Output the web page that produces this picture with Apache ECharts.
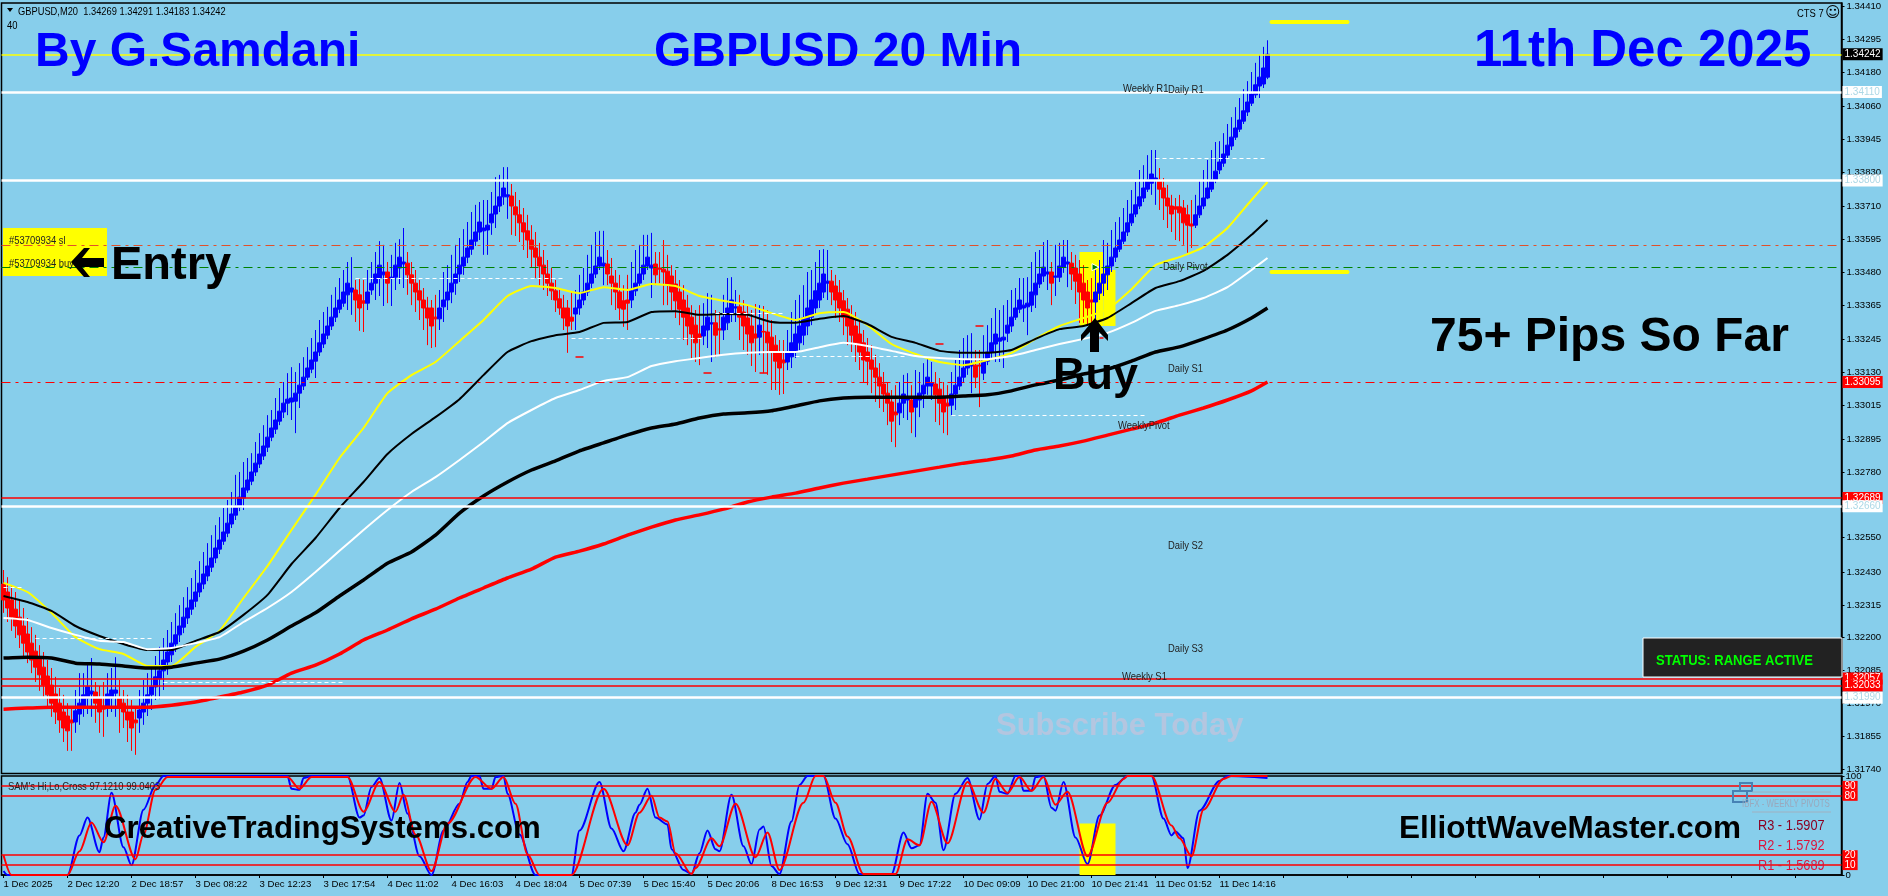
<!DOCTYPE html>
<html><head><meta charset="utf-8"><style>html,body{margin:0;padding:0;background:#87CEEB}#c{width:1888px;height:896px}</style>
<script src="https://cdn.jsdelivr.net/npm/echarts@6/dist/echarts.min.js"></script></head>
<body><div id="c"></div><script>
const xLabels=['1 Dec 2025','2 Dec 12:20','2 Dec 18:57','3 Dec 08:22','3 Dec 12:23','3 Dec 17:54','4 Dec 11:02','4 Dec 16:03','4 Dec 18:04','5 Dec 07:39','5 Dec 15:40','5 Dec 20:06','8 Dec 16:53','9 Dec 12:31','9 Dec 17:22','10 Dec 09:09','10 Dec 21:00','10 Dec 21:41','11 Dec 01:52','11 Dec 14:16'];
const yTicks=[1.34410,1.34295,1.34180,1.34060,1.33945,1.33830,1.33710,1.33595,1.33480,1.33365,1.33245,1.33130,1.33015,1.32895,1.32780,1.32660,1.32550,1.32430,1.32315,1.32200,1.32085,1.31970,1.31855,1.31740];
const opens=[1.32388,1.32360,1.32332,1.32300,1.32272,1.32241,1.32213,1.32181,1.32153,1.32125,1.32097,1.32066,1.32034,1.32003,1.31971,1.31940,1.31926,1.31912,1.31905,1.31933,
1.31961,1.31989,1.32003,1.32010,1.31989,1.31961,1.31961,1.31989,1.32006,1.31989,1.31971,1.31940,1.31940,1.31912,1.31919,1.31940,1.31971,1.32000,1.32028,1.32056,
1.32084,1.32115,1.32140,1.32178,1.32210,1.32237,1.32269,1.32300,1.32328,1.32360,1.32388,1.32416,1.32447,1.32479,1.32510,1.32538,1.32566,1.32598,1.32629,1.32657,
1.32689,1.32717,1.32748,1.32780,1.32808,1.32836,1.32867,1.32902,1.32930,1.32958,1.32990,1.33021,1.33025,1.33028,1.33056,1.33081,1.33112,1.33140,1.33168,1.33200,
1.33228,1.33259,1.33291,1.33322,1.33350,1.33371,1.33400,1.33410,1.33417,1.33400,1.33379,1.33371,1.33417,1.33441,1.33459,1.33470,1.33480,1.33459,1.33462,1.33494,
1.33508,1.33511,1.33470,1.33441,1.33414,1.33382,1.33354,1.33354,1.33322,1.33316,1.33358,1.33382,1.33410,1.33441,1.33473,1.33501,1.33532,1.33560,1.33588,1.33620,
1.33624,1.33627,1.33652,1.33683,1.33711,1.33743,1.33743,1.33746,1.33708,1.33680,1.33652,1.33624,1.33592,1.33564,1.33532,1.33504,1.33473,1.33441,1.33414,1.33386,
1.33354,1.33354,1.33322,1.33333,1.33354,1.33382,1.33410,1.33441,1.33473,1.33501,1.33501,1.33508,1.33466,1.33441,1.33410,1.33379,1.33382,1.33382,1.33414,1.33441,
1.33473,1.33501,1.33494,1.33508,1.33494,1.33490,1.33483,1.33466,1.33438,1.33410,1.33382,1.33354,1.33322,1.33294,1.33263,1.33256,1.33277,1.33298,1.33302,1.33281,
1.33277,1.33302,1.33337,1.33354,1.33358,1.33340,1.33319,1.33291,1.33263,1.33252,1.33272,1.33270,1.33252,1.33224,1.33197,1.33172,1.33165,1.33183,1.33200,1.33232,
1.33259,1.33291,1.33322,1.33354,1.33382,1.33410,1.33441,1.33448,1.33431,1.33407,1.33379,1.33350,1.33322,1.33291,1.33263,1.33232,1.33200,1.33172,1.33144,1.33112,
1.33088,1.33056,1.33025,1.32990,1.32987,1.33021,1.33032,1.33032,1.33007,1.33032,1.33053,1.33081,1.33081,1.33088,1.33070,1.33039,1.33021,1.33014,1.33053,1.33081,
1.33112,1.33144,1.33151,1.33154,1.33154,1.33126,1.33168,1.33200,1.33228,1.33238,1.33242,1.33266,1.33291,1.33322,1.33350,1.33354,1.33358,1.33364,1.33400,1.33438,
1.33466,1.33473,1.33480,1.33462,1.33462,1.33497,1.33508,1.33511,1.33494,1.33473,1.33441,1.33410,1.33382,1.33375,1.33406,1.33441,1.33470,1.33501,1.33532,1.33560,
1.33588,1.33620,1.33652,1.33683,1.33711,1.33739,1.33770,1.33791,1.33802,1.33802,1.33774,1.33739,1.33711,1.33708,1.33708,1.33704,1.33680,1.33648,1.33644,1.33680,
1.33711,1.33739,1.33770,1.33802,1.33837,1.33861,1.33889,1.33921,1.33952,1.33980,1.34008,1.34040,1.34071,1.34100,1.34131,1.34138,1.34162];
const closes=[1.32332,1.32304,1.32272,1.32241,1.32210,1.32181,1.32150,1.32122,1.32097,1.32070,1.32034,1.32000,1.31971,1.31940,1.31912,1.31884,1.31874,1.31902,1.31944,1.31971,
1.32000,1.32028,1.32013,1.31971,1.31940,1.31950,1.32003,1.32017,1.32017,1.31954,1.31940,1.31912,1.31884,1.31902,1.31947,1.31971,1.32000,1.32028,1.32063,1.32084,
1.32122,1.32150,1.32181,1.32210,1.32241,1.32272,1.32304,1.32332,1.32360,1.32391,1.32423,1.32451,1.32479,1.32514,1.32542,1.32570,1.32601,1.32633,1.32661,1.32692,
1.32724,1.32752,1.32780,1.32811,1.32843,1.32871,1.32902,1.32934,1.32962,1.32993,1.33021,1.33035,1.33039,1.33056,1.33084,1.33112,1.33144,1.33172,1.33200,1.33232,
1.33263,1.33291,1.33322,1.33354,1.33382,1.33410,1.33441,1.33424,1.33382,1.33354,1.33371,1.33410,1.33441,1.33473,1.33504,1.33480,1.33441,1.33462,1.33504,1.33532,
1.33515,1.33470,1.33441,1.33410,1.33382,1.33354,1.33319,1.33291,1.33316,1.33354,1.33382,1.33410,1.33441,1.33473,1.33504,1.33532,1.33564,1.33592,1.33620,1.33655,
1.33634,1.33644,1.33683,1.33711,1.33743,1.33774,1.33750,1.33711,1.33680,1.33652,1.33620,1.33592,1.33560,1.33532,1.33501,1.33473,1.33441,1.33414,1.33382,1.33354,
1.33319,1.33291,1.33308,1.33354,1.33382,1.33410,1.33441,1.33473,1.33501,1.33532,1.33511,1.33473,1.33441,1.33410,1.33354,1.33350,1.33371,1.33414,1.33441,1.33473,
1.33504,1.33532,1.33504,1.33470,1.33490,1.33480,1.33438,1.33410,1.33379,1.33350,1.33322,1.33291,1.33263,1.33232,1.33252,1.33291,1.33322,1.33302,1.33259,1.33277,
1.33322,1.33354,1.33382,1.33358,1.33322,1.33291,1.33263,1.33232,1.33249,1.33294,1.33270,1.33232,1.33200,1.33168,1.33144,1.33162,1.33197,1.33232,1.33263,1.33291,
1.33319,1.33354,1.33382,1.33414,1.33441,1.33473,1.33448,1.33410,1.33382,1.33354,1.33322,1.33291,1.33259,1.33232,1.33200,1.33172,1.33168,1.33140,1.33112,1.33081,
1.33053,1.33021,1.32958,1.32980,1.33021,1.33053,1.33039,1.32990,1.33039,1.33056,1.33084,1.33112,1.33091,1.33050,1.33021,1.32990,1.33011,1.33053,1.33084,1.33112,
1.33144,1.33172,1.33158,1.33112,1.33151,1.33172,1.33200,1.33232,1.33263,1.33249,1.33252,1.33294,1.33322,1.33354,1.33382,1.33364,1.33371,1.33410,1.33441,1.33473,
1.33497,1.33480,1.33441,1.33466,1.33501,1.33532,1.33515,1.33473,1.33448,1.33410,1.33382,1.33354,1.33375,1.33410,1.33441,1.33473,1.33501,1.33532,1.33564,1.33592,
1.33620,1.33652,1.33683,1.33715,1.33743,1.33774,1.33802,1.33823,1.33809,1.33770,1.33739,1.33711,1.33683,1.33700,1.33687,1.33652,1.33644,1.33641,1.33680,1.33711,
1.33739,1.33774,1.33802,1.33833,1.33865,1.33893,1.33924,1.33952,1.33984,1.34012,1.34044,1.34075,1.34103,1.34135,1.34162,1.34194,1.34242];
const highs=[1.32437,1.32412,1.32384,1.32360,1.32332,1.32304,1.32269,1.32237,1.32210,1.32174,1.32150,1.32122,1.32094,1.32063,1.32024,1.32000,1.31971,1.31954,1.32017,1.32076,
1.32076,1.32111,1.32129,1.32045,1.32031,1.32045,1.32076,1.32094,1.32132,1.32052,1.32017,1.32000,1.31982,1.31961,1.32017,1.32052,1.32076,1.32094,1.32136,1.32168,
1.32199,1.32227,1.32255,1.32286,1.32314,1.32342,1.32377,1.32409,1.32437,1.32468,1.32500,1.32531,1.32559,1.32594,1.32622,1.32654,1.32682,1.32710,1.32770,1.32780,
1.32815,1.32829,1.32846,1.32885,1.32916,1.32944,1.32979,1.32997,1.33039,1.33074,1.33095,1.33126,1.33147,1.33130,1.33161,1.33182,1.33217,1.33249,1.33277,1.33312,
1.33340,1.33358,1.33400,1.33427,1.33459,1.33487,1.33515,1.33532,1.33452,1.33455,1.33452,1.33487,1.33515,1.33550,1.33588,1.33575,1.33515,1.33540,1.33582,1.33595,
1.33634,1.33550,1.33515,1.33487,1.33452,1.33424,1.33393,1.33382,1.33400,1.33417,1.33480,1.33504,1.33540,1.33575,1.33599,1.33630,1.33655,1.33690,1.33715,1.33725,
1.33732,1.33732,1.33760,1.33812,1.33820,1.33847,1.33847,1.33788,1.33760,1.33732,1.33704,1.33680,1.33644,1.33620,1.33582,1.33557,1.33522,1.33494,1.33452,1.33424,
1.33400,1.33382,1.33410,1.33417,1.33470,1.33494,1.33540,1.33575,1.33620,1.33624,1.33624,1.33557,1.33529,1.33487,1.33470,1.33434,1.33470,1.33515,1.33557,1.33575,
1.33610,1.33610,1.33617,1.33550,1.33550,1.33592,1.33540,1.33504,1.33487,1.33452,1.33434,1.33400,1.33364,1.33347,1.33364,1.33371,1.33406,1.33400,1.33347,1.33340,
1.33400,1.33459,1.33462,1.33417,1.33400,1.33382,1.33361,1.33347,1.33368,1.33364,1.33361,1.33347,1.33312,1.33259,1.33242,1.33242,1.33277,1.33340,1.33382,1.33400,
1.33434,1.33480,1.33487,1.33515,1.33557,1.33560,1.33557,1.33487,1.33470,1.33452,1.33417,1.33389,1.33364,1.33340,1.33312,1.33277,1.33249,1.33224,1.33190,1.33161,
1.33130,1.33095,1.33067,1.33084,1.33095,1.33120,1.33126,1.33084,1.33137,1.33130,1.33161,1.33182,1.33165,1.33130,1.33109,1.33095,1.33084,1.33130,1.33172,1.33207,
1.33249,1.33259,1.33266,1.33207,1.33207,1.33259,1.33294,1.33319,1.33354,1.33347,1.33364,1.33382,1.33417,1.33424,1.33459,1.33459,1.33462,1.33515,1.33550,1.33557,
1.33585,1.33592,1.33515,1.33575,1.33582,1.33592,1.33592,1.33550,1.33540,1.33522,1.33504,1.33452,1.33459,1.33487,1.33522,1.33592,1.33582,1.33627,1.33655,1.33672,
1.33704,1.33732,1.33767,1.33795,1.33837,1.33854,1.33889,1.33907,1.33907,1.33844,1.33809,1.33785,1.33750,1.33739,1.33750,1.33732,1.33715,1.33732,1.33750,1.33802,
1.33837,1.33872,1.33907,1.33935,1.33938,1.33966,1.33998,1.34022,1.34057,1.34089,1.34120,1.34148,1.34180,1.34212,1.34240,1.34268,1.34291];
const lows=[1.32287,1.32255,1.32224,1.32199,1.32164,1.32136,1.32111,1.32076,1.32045,1.32014,1.31993,1.31961,1.31923,1.31898,1.31867,1.31835,1.31804,1.31804,1.31867,1.31895,
1.31923,1.31933,1.31923,1.31902,1.31867,1.31853,1.31923,1.31940,1.31923,1.31867,1.31884,1.31835,1.31804,1.31790,1.31867,1.31895,1.31926,1.31947,1.31982,1.31985,
1.32017,1.32070,1.32115,1.32150,1.32185,1.32216,1.32248,1.32280,1.32307,1.32342,1.32370,1.32398,1.32430,1.32461,1.32493,1.32525,1.32552,1.32584,1.32612,1.32643,
1.32647,1.32707,1.32734,1.32766,1.32794,1.32822,1.32850,1.32888,1.32913,1.32944,1.32969,1.32979,1.32962,1.32916,1.33004,1.33067,1.33102,1.33126,1.33109,1.33186,
1.33214,1.33245,1.33277,1.33305,1.33336,1.33358,1.33347,1.33330,1.33305,1.33274,1.33270,1.33347,1.33400,1.33382,1.33396,1.33361,1.33371,1.33361,1.33417,1.33438,
1.33424,1.33400,1.33364,1.33340,1.33312,1.33277,1.33224,1.33214,1.33217,1.33277,1.33305,1.33347,1.33371,1.33400,1.33445,1.33470,1.33511,1.33540,1.33571,1.33592,
1.33540,1.33540,1.33610,1.33634,1.33690,1.33715,1.33666,1.33610,1.33606,1.33585,1.33557,1.33529,1.33494,1.33459,1.33434,1.33417,1.33396,1.33382,1.33340,1.33330,
1.33277,1.33197,1.33277,1.33277,1.33330,1.33364,1.33396,1.33424,1.33459,1.33487,1.33434,1.33434,1.33364,1.33347,1.33312,1.33288,1.33277,1.33354,1.33396,1.33424,
1.33452,1.33487,1.33389,1.33434,1.33441,1.33364,1.33364,1.33347,1.33319,1.33294,1.33242,1.33224,1.33179,1.33165,1.33154,1.33224,1.33214,1.33165,1.33182,1.33186,
1.33242,1.33277,1.33305,1.33305,1.33242,1.33207,1.33190,1.33151,1.33130,1.33190,1.33126,1.33120,1.33067,1.33067,1.33050,1.33053,1.33137,1.33144,1.33179,1.33207,
1.33224,1.33259,1.33294,1.33330,1.33354,1.33389,1.33382,1.33364,1.33319,1.33305,1.33259,1.33224,1.33200,1.33165,1.33137,1.33095,1.33084,1.33056,1.33025,1.33004,
1.32990,1.32944,1.32885,1.32867,1.32944,1.32969,1.32962,1.32916,1.32902,1.32972,1.33004,1.33050,1.33032,1.32955,1.32944,1.32916,1.32909,1.32979,1.32997,1.33067,
1.33095,1.33120,1.33056,1.33074,1.33007,1.33102,1.33154,1.33179,1.33165,1.33165,1.33144,1.33235,1.33270,1.33312,1.33336,1.33305,1.33259,1.33340,1.33354,1.33424,
1.33445,1.33417,1.33364,1.33396,1.33445,1.33477,1.33427,1.33417,1.33368,1.33302,1.33302,1.33291,1.33302,1.33294,1.33382,1.33396,1.33417,1.33480,1.33515,1.33550,
1.33578,1.33606,1.33641,1.33672,1.33700,1.33725,1.33760,1.33750,1.33715,1.33697,1.33662,1.33634,1.33620,1.33592,1.33588,1.33575,1.33547,1.33564,1.33634,1.33669,
1.33700,1.33735,1.33760,1.33791,1.33823,1.33848,1.33879,1.33907,1.33942,1.33970,1.33998,1.34026,1.34061,1.34089,1.34089,1.34124,1.34155];
const maBars=[0,6,12,18,24,30,36,42,48,54,60,66,72,78,84,90,96,102,108,114,120,126,132,138,144,150,156,162,168,174,180,186,192,198,204,210,216,222,228,234,240,246,252,258,264,270,276,282,288,294,300,306,312,316];
const maYellow=[1.32392,1.32360,1.32287,1.32202,1.32160,1.32143,1.32101,1.32101,1.32168,1.32224,1.32339,1.32451,1.32577,1.32700,1.32829,1.32934,1.33056,1.33119,1.33165,1.33238,1.33312,1.33396,1.33431,1.33424,1.33406,1.33427,1.33417,1.33438,1.33431,1.33396,1.33379,1.33364,1.33336,1.33312,1.33336,1.33340,1.33294,1.33228,1.33193,1.33165,1.33154,1.33172,1.33197,1.33246,1.33291,1.33319,1.33350,1.33420,1.33504,1.33532,1.33567,1.33634,1.33732,1.33795];
const maBlackThin=[1.32346,1.32325,1.32294,1.32241,1.32206,1.32178,1.32157,1.32157,1.32189,1.32220,1.32280,1.32350,1.32458,1.32549,1.32654,1.32745,1.32843,1.32913,1.32972,1.33035,1.33119,1.33200,1.33238,1.33259,1.33270,1.33302,1.33305,1.33340,1.33343,1.33330,1.33333,1.33330,1.33305,1.33302,1.33316,1.33326,1.33298,1.33253,1.33232,1.33204,1.33197,1.33197,1.33207,1.33246,1.33280,1.33291,1.33319,1.33371,1.33424,1.33448,1.33484,1.33540,1.33610,1.33662];
const maWhite=[1.32269,1.32262,1.32234,1.32210,1.32189,1.32185,1.32160,1.32164,1.32181,1.32202,1.32255,1.32304,1.32360,1.32430,1.32504,1.32577,1.32647,1.32710,1.32762,1.32822,1.32885,1.32951,1.32997,1.33039,1.33067,1.33099,1.33112,1.33151,1.33168,1.33179,1.33190,1.33197,1.33200,1.33200,1.33217,1.33232,1.33221,1.33204,1.33186,1.33179,1.33175,1.33175,1.33186,1.33207,1.33228,1.33246,1.33267,1.33302,1.33344,1.33364,1.33389,1.33427,1.33487,1.33529];
const maBlackThick=[1.32129,1.32132,1.32129,1.32111,1.32108,1.32101,1.32094,1.32097,1.32111,1.32125,1.32153,1.32192,1.32241,1.32287,1.32346,1.32402,1.32461,1.32500,1.32559,1.32636,1.32696,1.32745,1.32787,1.32819,1.32854,1.32882,1.32910,1.32934,1.32948,1.32969,1.32983,1.32987,1.32994,1.33011,1.33029,1.33039,1.33042,1.33042,1.33042,1.33042,1.33046,1.33050,1.33064,1.33085,1.33102,1.33123,1.33140,1.33168,1.33200,1.33218,1.33246,1.33277,1.33319,1.33354];
const maRedThick=[1.31950,1.31954,1.31957,1.31957,1.31957,1.31957,1.31957,1.31964,1.31975,1.31992,1.32010,1.32034,1.32076,1.32104,1.32143,1.32192,1.32227,1.32266,1.32300,1.32339,1.32374,1.32409,1.32440,1.32482,1.32503,1.32528,1.32559,1.32587,1.32612,1.32630,1.32650,1.32675,1.32692,1.32706,1.32724,1.32741,1.32755,1.32769,1.32783,1.32797,1.32811,1.32822,1.32836,1.32857,1.32871,1.32888,1.32909,1.32930,1.32951,1.32979,1.33004,1.33032,1.33064,1.33095];
const stochBlueBars=[0,1,16,19,21,24,25,27,30,32,35,38,40,71,72,74,75,77,86,89,90,92,94,97,99,101,104,107,110,114,116,117,119,120,122,123,125,126,129,133,142,144,149,152,155,158,159,161,163,166,167,170,172,174,176,178,179,182,185,187,189,190,192,194,197,199,201,205,208,211,214,222,225,227,229,231,233,235,238,241,244,246,248,249,251,253,254,255,257,258,260,262,263,265,268,271,274,278,281,287,290,292,293,295,296,299,304,306,316];
const stochBlue=[4,0,0,40,58,23,38,83,28,10,66,91,100,100,87,86,98,100,100,58,60,89,98,55,93,62,19,0,45,72,94,100,100,87,87,99,100,82,41,0,0,45,94,47,24,63,71,87,58,51,26,5,1,22,45,26,24,81,29,11,46,49,9,1,54,91,100,100,57,31,1,1,43,27,30,82,73,25,82,98,56,92,100,84,82,100,100,85,85,99,100,68,65,94,38,11,60,91,100,100,57,40,44,37,7,65,95,100,98];
const stochRedBars=[0,2,16,19,22,25,28,33,35,38,41,71,74,77,86,90,94,98,100,103,107,111,118,122,125,128,131,134,142,150,156,159,162,164,166,168,172,173,177,179,183,188,191,194,200,203,205,208,211,215,223,226,229,232,236,241,245,248,251,254,257,260,263,266,271,276,280,281,287,292,294,297,300,305,307,316];
const stochRed=[20,0,0,24,53,33,70,16,41,86,99,99,87,99,99,64,94,64,81,41,4,52,99,87,99,72,21,0,0,87,30,63,80,58,54,22,1,7,37,29,72,18,43,5,73,100,100,73,39,1,1,36,30,74,32,94,63,97,83,99,85,99,71,84,19,73,97,100,100,50,37,19,66,97,100,100];
const priceLevels=[1.34242,1.34110,1.33800,1.33574,1.33497,1.33095,1.32689,1.32660,1.32057,1.32033,1.31990];
const stochLevels=[90,80,20,10];
const whiteDashes=[[288,316,1.33879],[237,286,1.32980],[88,140,1.33459],[142,175,1.33249],[178,195,1.33337],[198,226,1.33186],[0,5,1.32377],[8,37,1.32199],[40,85,1.32045]];
const redStubs=[[143,145,1.33183],[175,177,1.33127],[189,191,1.33127],[233,235,1.33228],[243,245,1.33291],[274,275,1.33249]];
const yellowStubs=[[317,336,1.34355],[317,336,1.33480]];

const AXF='"Liberation Sans",Arial,sans-serif';
const ARIAL=AXF;
const BAR_SLOTS=460;
const cats=Array.from({length:BAR_SLOTS},(_,i)=>i%16===0?(xLabels[i/16]||''):'');
const pairs=(bars,vals)=>bars.map((b,i)=>[b,vals[i]]);
const candle=opens.map((o,i)=>[o,closes[i],lows[i],highs[i]]);
const lvlStyle=[
 {c:'#ffff00',w:1.5,t:'solid',bg:'#000',fg:'#fff'},
 {c:'#fff',w:2.5,t:'solid',bg:'#fff',fg:'#add8e6'},
 {c:'#fff',w:2.5,t:'solid',bg:'#fff',fg:'#add8e6'},
 {c:'#e2502a',w:1.2,t:[9,5,3,5]},
 {c:'#008000',w:1.2,t:[9,5,3,5]},
 {c:'#ff0000',w:1.2,t:[9,5,3,5],bg:'#ff0000',fg:'#fff'},
 {c:'#ff0000',w:1.5,t:'solid',bg:'#ff0000',fg:'#fff'},
 {c:'#fff',w:2.5,t:'solid',bg:'#fff',fg:'#add8e6'},
 {c:'#ff0000',w:1.5,t:'solid',bg:'#ff0000',fg:'#fff'},
 {c:'#ff0000',w:1.5,t:'solid',bg:'#ff0000',fg:'#fff'},
 {c:'#fff',w:2.5,t:'solid',bg:'#fff',fg:'#add8e6'}];
const lvlData=priceLevels.map((p,i)=>{const s=lvlStyle[i];return{yAxis:p,lineStyle:{color:s.c,width:s.w,type:s.t},
 label:s.bg?{show:true,position:'end',distance:1,formatter:p.toFixed(5),backgroundColor:s.bg,color:s.fg,fontFamily:AXF,fontSize:10,padding:[1,2,0,2],lineHeight:11}:{show:false}}});
const seg=(arr,style)=>arr.map(a=>[{coord:[a[0],a[2]],lineStyle:style},{coord:[a[1],a[2]]}]);
const maLine=(name,vals,color,w,z)=>({name,type:'line',xAxisIndex:0,yAxisIndex:0,data:pairs(maBars,vals),showSymbol:false,symbol:'none',z,smooth:0.15,lineStyle:{color,width:w},silent:true});
// y is the alphabetic baseline (zrender lays the text from its top edge); sx narrows the glyphs
const tx=(text,x,y,font,fill,sx)=>{const size=parseFloat(font.match(/([\d.]+)px/)[1]);
 return {type:'text',z:100,silent:true,x,y:y-0.75*size,scaleX:sx||1,style:{text,x:0,y:0,font,fill}};};
const bigFont=s=>`bold ${s}px ${ARIAL}`;
const nf=s=>`${s}px ${ARIAL}`;

const option={
 animation:false,backgroundColor:'#87CEEB',
 grid:[{left:1.5,right:46.5,top:3,height:770.5,show:true,borderColor:'#000',borderWidth:1.5,backgroundColor:'transparent'},
       {left:1.5,right:46.5,top:776,height:99,show:true,borderColor:'#000',borderWidth:1.5,backgroundColor:'transparent'}],
 xAxis:[{type:'category',gridIndex:0,data:cats,boundaryGap:true,axisLine:{show:false},axisTick:{show:false},axisLabel:{show:false},splitLine:{show:false}},
        {type:'category',gridIndex:1,data:cats,boundaryGap:true,axisLine:{show:true,lineStyle:{color:'#000',width:1.5}},
         axisTick:{show:true,alignWithLabel:true,interval:i=>i%16===0,length:3,lineStyle:{color:'#000'}},
         axisLabel:{show:true,interval:i=>i%16===0,align:'left',margin:4,color:'#000',fontFamily:AXF,fontSize:9.6,hideOverlap:false,showMinLabel:true},splitLine:{show:false}}],
 yAxis:[{type:'value',gridIndex:0,position:'right',min:1.3172475,max:1.344215,scale:true,
         axisLine:{show:true,lineStyle:{color:'#000',width:1.5}},
         axisTick:{show:true,length:3,lineStyle:{color:'#000'},customValues:yTicks},
         axisLabel:{show:true,margin:5,color:'#000',fontFamily:AXF,fontSize:9.6,customValues:yTicks,formatter:v=>v.toFixed(5)},splitLine:{show:false}},
        {type:'value',gridIndex:1,position:'right',min:0,max:100,
         axisLine:{show:true,lineStyle:{color:'#000',width:1.5}},
         axisTick:{show:true,length:3,lineStyle:{color:'#000'},customValues:[100,0]},
         axisLabel:{show:true,margin:4,color:'#000',fontFamily:AXF,fontSize:9.6,customValues:[100,0]},splitLine:{show:false}}],
 series:[
  {name:'areas',type:'line',xAxisIndex:0,yAxisIndex:0,data:[],z:1,silent:true,
   markArea:{silent:true,z:1,itemStyle:{color:'#ffff00',opacity:1},data:[
     [{coord:[269,1.33550]},{coord:[275,1.33291]}],
     [{coord:[275,1.33487]},{coord:[278,1.33291]}]]}},
  {name:'subArea',type:'line',xAxisIndex:1,yAxisIndex:1,data:[],z:1,silent:true,
   markArea:{silent:true,z:1,itemStyle:{color:'#ffff00',opacity:1},data:[[{coord:[269,52]},{coord:[278,0]}]]}},
  {name:'GBPUSD',type:'candlestick',xAxisIndex:0,yAxisIndex:0,data:candle,barWidth:4,barMaxWidth:4,z:2,silent:true,
   itemStyle:{color:'#0000ff',color0:'#ff0000',borderColor:'#0000ff',borderColor0:'#ff0000',borderWidth:1}},
  maLine('MA yellow',maYellow,'#ffff00',2,3),
  maLine('MA black',maBlackThin,'#000000',2,3),
  maLine('MA white',maWhite,'#ffffff',2,3),
  maLine('MA black thick',maBlackThick,'#000000',3.5,3),
  maLine('MA red',maRedThick,'#ff0000',3.5,3),
  {name:'levels',type:'line',xAxisIndex:0,yAxisIndex:0,data:[],z:4,silent:true,
   markLine:{silent:true,symbol:'none',animation:false,z:5,precision:6,data:lvlData.concat(
     seg(whiteDashes,{color:'#fff',width:1,type:[4,3]}),
     seg(redStubs,{color:'#ff0000',width:1.5,type:'solid'}),
     seg(yellowStubs,{color:'#ffff00',width:4,type:'solid',cap:'round'}))},
   markPoint:{silent:true,z:6,data:[{coord:[273,1.33497],symbol:'triangle',symbolSize:7,symbolRotate:-90,itemStyle:{color:'#008000',borderColor:'#fff',borderWidth:1},label:{show:false}}]}},
  {name:'Stoch blue',type:'line',xAxisIndex:1,yAxisIndex:1,data:pairs(stochBlueBars,stochBlue),symbol:'none',z:3,silent:true,smooth:0.3,smoothMonotone:'x',lineStyle:{color:'#0000ff',width:2}},
  {name:'Stoch red',type:'line',xAxisIndex:1,yAxisIndex:1,data:pairs(stochRedBars,stochRed),symbol:'none',z:3,silent:true,smooth:0.3,smoothMonotone:'x',lineStyle:{color:'#ff0000',width:2}},
  {name:'subLevels',type:'line',xAxisIndex:1,yAxisIndex:1,data:[],z:4,silent:true,
   markLine:{silent:true,symbol:'none',animation:false,z:5,data:stochLevels.map(v=>({yAxis:v,lineStyle:{color:'#ff0000',width:1.5,type:'solid'},
     label:{show:true,position:'end',distance:1,formatter:String(v),backgroundColor:'#ff0000',color:'#fff',fontFamily:AXF,fontSize:10,padding:[0,2,0,2],lineHeight:10}}))}}
 ],
 graphic:[
  {type:'rect',z:0,silent:true,shape:{x:3,y:228,width:104,height:48},style:{fill:'#ffff00'}},
  tx('#53709934 sl',9,243,nf(11.5),'#222',0.82),
  tx('#53709934 buy',9,266,nf(11.5),'#222',0.82),
  {type:'polygon',z:100,silent:true,shape:{points:[[71,262],[84,248],[90,248],[82,258],[104,258],[104,267],[82,267],[90,277],[84,277]]},style:{fill:'#000'}},
  tx('Entry',111,278,bigFont(47),'#000'),
  tx('By G.Samdani',35,65,bigFont(48),'#0000ff'),
  tx('GBPUSD 20 Min',654,65,bigFont(48),'#0000ff'),
  tx('11th Dec 2025',1474,65,bigFont(51),'#0000ff'),
  {type:'polygon',z:100,silent:true,shape:{points:[[7,8],[13,8],[10,12]]},style:{fill:'#000'}},
  tx('GBPUSD,M20  1.34269 1.34291 1.34183 1.34242',18,14,nf(11.5),'#000',0.81),
  tx('40',7,28,nf(11.5),'#000',0.82),
  tx('CTS 7',1797,16,nf(11.5),'#000',0.82),
  tx('☺',1825,17,'15px "DejaVu Sans"','#000'),
  tx('Weekly R1',1123,91,nf(11.5),'#222',0.82),
  tx('Daily R1',1168,92,nf(11.5),'#222',0.82),
  tx('Daily Pivot',1163,269,nf(11.5),'#222',0.82),
  tx('Daily S1',1168,371,nf(11.5),'#222',0.82),
  tx('WeeklyPivot',1118,428,nf(11.5),'#222',0.82),
  tx('Daily S2',1168,548,nf(11.5),'#222',0.82),
  tx('Daily S3',1168,651,nf(11.5),'#222',0.82),
  tx('Weekly S1',1122,679,nf(11.5),'#222',0.82),
  {type:'polygon',z:100,silent:true,shape:{points:[[1095,318],[1108,335],[1108,341],[1099,332],[1099,352],[1090,352],[1090,332],[1081,341],[1081,335]]},style:{fill:'#000'}},
  tx('Buy',1053,388,bigFont(45),'#000'),
  tx('75+ Pips So Far',1430,350,bigFont(48),'#000'),
  tx('Subscribe Today',996,734,bigFont(31),'#b4c6e0'),
  {type:'rect',z:99,silent:true,shape:{x:1643,y:638,width:199,height:39},style:{fill:'#222',stroke:'#fff',lineWidth:1}},
  tx('STATUS: RANGE ACTIVE',1656,665,bigFont(15),'#00ff00',0.87),
  tx("SAM's Hi,Lo,Cross 97.1210 99.0403",8,789,nf(11.5),'#222',0.82),
  tx('CreativeTradingSystems.com',104,837,bigFont(31.2),'#000'),
  tx('ElliottWaveMaster.com',1399,837,bigFont(31.5),'#000'),
  {type:'rect',z:90,silent:true,shape:{x:1740,y:783,width:12,height:8},style:{fill:'none',stroke:'#4682b4',lineWidth:2}},
  {type:'rect',z:90,silent:true,shape:{x:1733,y:791,width:14,height:11},style:{fill:'none',stroke:'#4682b4',lineWidth:2}},
  {type:'line',z:90,silent:true,shape:{x1:1752,y1:792,x2:1831,y2:792},style:{stroke:'#a0b0c0',lineWidth:1}},
  {type:'line',z:90,silent:true,shape:{x1:1752,y1:812,x2:1831,y2:812},style:{stroke:'#a0b0c0',lineWidth:1}},
  tx('IBFX - WEEKLY PIVOTS',1742,806,nf(10.5),'#9aa8bc',0.75),
  tx('R3 - 1.5907',1758,830,nf(15),'#8b0022',0.85),
  tx('R2 - 1.5792',1758,850,nf(15),'#dc143c',0.85),
  tx('R1 - 1.5689',1758,870,nf(15),'#dc143c',0.85)
 ]
};
echarts.init(document.getElementById('c'),null,{renderer:'canvas',width:1888,height:896}).setOption(option);
</script></body></html>
